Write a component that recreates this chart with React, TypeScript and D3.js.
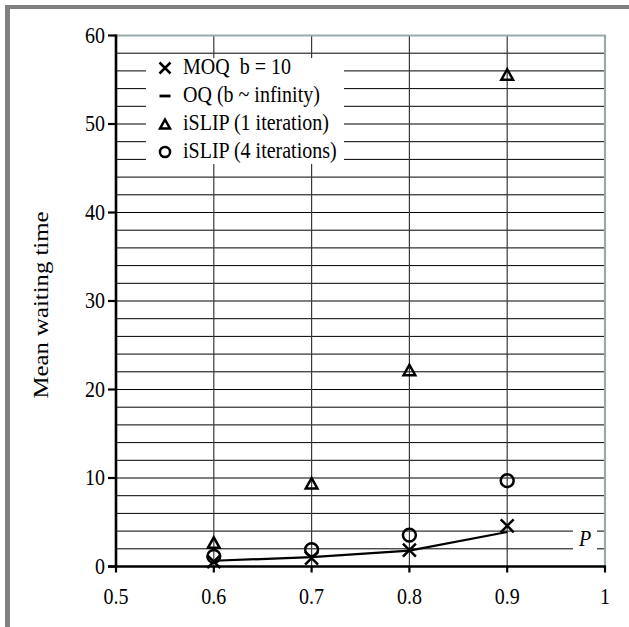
import React from 'react';
import * as d3 from 'd3';

// offered load
const loads = [0.6, 0.7, 0.8, 0.9];
const moqWait = [0.55, 0.95, 1.85, 4.6];
const oqWait = [0.65, 1.05, 1.8, 3.9];
const islip1Wait = [2.7, 9.4, 22.2, 55.6];
const islip4Wait = [1.15, 1.9, 3.55, 9.7];

const xTicks = [0.5, 0.6, 0.7, 0.8, 0.9, 1];
const yTicks = [0, 10, 20, 30, 40, 50, 60];

const legendItems = [
  { label: 'MOQ\u00a0\u00a0b = 10', marker: 'x' },
  { label: 'OQ (b ~ infinity)', marker: 'dash' },
  { label: 'iSLIP (1 iteration)', marker: 'tri' },
  { label: 'iSLIP (4 iterations)', marker: 'circle' },
];

const W = 629;
const H = 627;
const FONT = '"Liberation Serif", "Times New Roman", serif';
const BORDER = '#97abab';
const STRETCH = 1.15; // source text is a bit taller than wide

const Marker = ({ type, cx, cy, s = 7 }: { type: string; cx: number; cy: number; s?: number }) => {
  if (type === 'x') {
    return (
      <path
        d={`M${cx - s},${cy - s}L${cx + s},${cy + s}M${cx - s},${cy + s}L${cx + s},${cy - s}`}
        stroke="#000" strokeWidth={2.5} fill="none"
      />
    );
  }
  if (type === 'dash') {
    return <line x1={cx - s} x2={cx + s} y1={cy} y2={cy} stroke="#000" strokeWidth={2.8} />;
  }
  if (type === 'tri') {
    const h = s * 1.6;
    return (
      <path
        d={`M${cx},${cy - h / 2}L${cx + s * 0.9},${cy + h / 2}L${cx - s * 0.9},${cy + h / 2}Z`}
        stroke="#000" strokeWidth={2.5} fill="none" strokeLinejoin="miter"
      />
    );
  }
  return <circle cx={cx} cy={cy} r={s * 0.92} stroke="#000" strokeWidth={2.5} fill="none" />;
};

const Label = ({ x, y, size = 20, anchor = 'start', italic = false, children }: any) => (
  <text
    transform={`translate(${x},${y}) scale(1,${STRETCH})`}
    fontSize={size}
    textAnchor={anchor}
    fontStyle={italic ? 'italic' : 'normal'}
  >
    {children}
  </text>
);

export default function App() {
  const x = d3.scaleLinear().domain([0.5, 1]).range([116, 605]);
  const y = d3.scaleLinear().domain([0, 60]).range([566.5, 35.5]);

  const minorY = d3.range(2, 60, 2);
  const gridX = [0.6, 0.7, 0.8, 0.9];

  const oqLine = d3.line<number>()
    .x((_, i) => x(loads[i]))
    .y(d => y(d));

  return (
    <svg
      width={W}
      height={H}
      style={{ position: 'absolute', left: 0, top: 0, background: '#fff' }}
      fontFamily={FONT}
    >
      {/* frame */}
      <rect x={5} y={5} width={W - 5} height={4} fill="#808080" />
      <rect x={5} y={5} width={5} height={H - 5} fill="#808080" />

      {/* horizontal grid */}
      {minorY.map(v => (
        <line key={v} x1={x(0.5)} x2={x(1)} y1={y(v)} y2={y(v)} stroke="#000" strokeWidth={1} />
      ))}
      {/* vertical grid */}
      {gridX.map(v => (
        <line key={v} x1={x(v)} x2={x(v)} y1={y(0)} y2={y(60)} stroke="#3a3a3a" strokeWidth={1.2} />
      ))}
      {/* plot border top/right */}
      <line x1={x(0.5)} x2={x(1) + 1} y1={y(60)} y2={y(60)} stroke={BORDER} strokeWidth={2} />
      <line x1={x(1)} x2={x(1)} y1={y(60)} y2={y(0)} stroke={BORDER} strokeWidth={2.2} />

      {/* legend */}
      <rect x={146} y={58} width={198} height={106} fill="#fff" />
      {legendItems.map((it, i) => {
        const base = 74 + i * 28;
        return (
          <g key={it.label}>
            <Marker type={it.marker} cx={165} cy={base - 6} s={5.5} />
            <Label x={183} y={base}>{it.label}</Label>
          </g>
        );
      })}

      {/* P label */}
      <rect x={573} y={526} width={24} height={26} fill="#fff" />
      <Label x={585} y={546} size={20} anchor="middle" italic>P</Label>

      {/* axes */}
      <line x1={x(0.5)} x2={x(0.5)} y1={y(0) + 1} y2={y(60) - 1} stroke="#000" strokeWidth={2.6} />
      <line x1={x(0.5) - 8} x2={x(1) + 1} y1={y(0)} y2={y(0)} stroke="#000" strokeWidth={2.6} />
      {yTicks.map(v => (
        <g key={v}>
          <line x1={x(0.5) - 8} x2={x(0.5)} y1={y(v)} y2={y(v)} stroke="#000" strokeWidth={2.2} />
          <Label x={105} y={y(v) + 7} anchor="end">{v}</Label>
        </g>
      ))}
      {xTicks.map(v => (
        <g key={v}>
          <line x1={x(v)} x2={x(v)} y1={y(0)} y2={y(0) + 6} stroke="#000" strokeWidth={2.2} />
          <Label x={x(v)} y={604} anchor="middle">{v}</Label>
        </g>
      ))}
      <text
        transform={`translate(48,${(y(0) + y(60)) / 2 + 4}) rotate(-90) scale(${STRETCH * 1.05},1)`}
        fontSize={20.5}
        textAnchor="middle"
      >
        Mean waiting time
      </text>

      {/* data */}
      <path d={oqLine(oqWait) || ''} fill="none" stroke="#000" strokeWidth={2.2} />
      {loads.map((l, i) => (
        <g key={l}>
          <Marker type="x" cx={x(l)} cy={y(moqWait[i])} s={6.5} />
          <Marker type="tri" cx={x(l)} cy={y(islip1Wait[i])} s={6.5} />
          <Marker type="circle" cx={x(l)} cy={y(islip4Wait[i])} s={7} />
        </g>
      ))}
    </svg>
  );
}
